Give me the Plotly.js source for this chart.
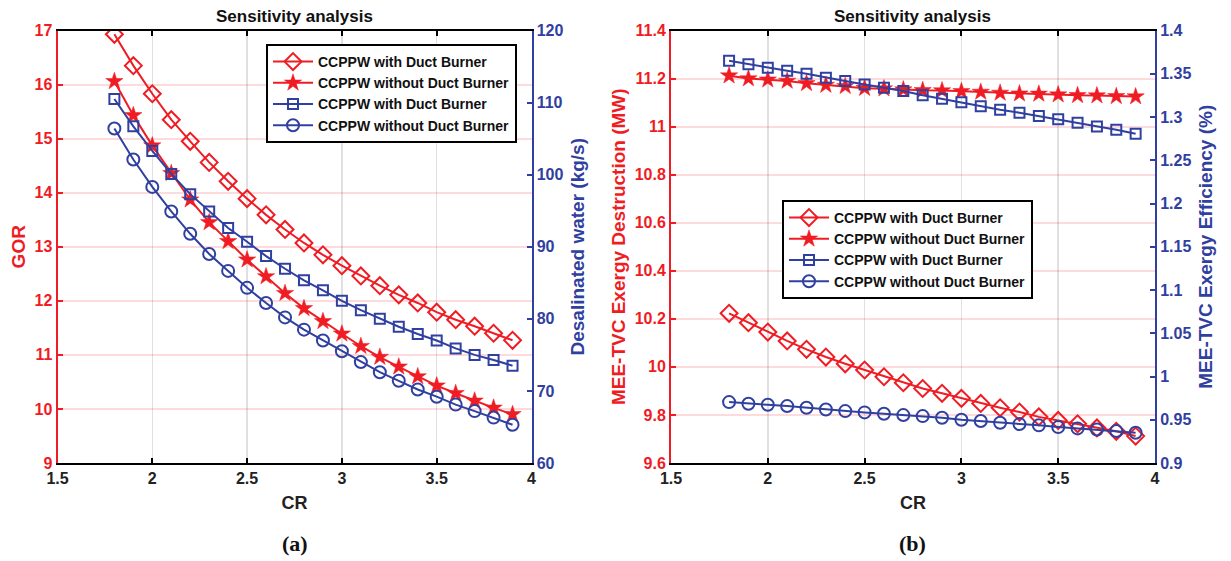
<!DOCTYPE html>
<html>
<head>
<meta charset="utf-8">
<script src="https://cdn.plot.ly/plotly-3.0.1.min.js"></script>
<style>html,body{margin:0;padding:0;background:#fff;}#chart{width:1231px;height:561px;}</style>
</head>
<body>
<div id="chart"></div>
<script>
// CR values
const CR = [1.8,1.9,2.0,2.1,2.2,2.3,2.4,2.5,2.6,2.7,2.8,2.9,3.0,3.1,3.2,3.3,3.4,3.5,3.6,3.7,3.8,3.9];

// (a) GOR (left axis)
const gorWithDB = [16.93,16.35,15.83,15.35,14.95,14.56,14.21,13.89,13.59,13.32,13.07,12.85,12.65,12.46,12.28,12.11,11.96,11.79,11.65,11.53,11.40,11.27];
const gorWithoutDB = [16.06,15.43,14.87,14.36,13.87,13.45,13.10,12.76,12.45,12.14,11.86,11.62,11.39,11.16,10.96,10.78,10.60,10.43,10.29,10.15,10.02,9.90];
// (a) Desalinated water (right axis)
const waterWithDB = [110.5,106.7,103.3,100.1,97.3,94.9,92.6,90.7,88.7,86.95,85.35,83.95,82.5,81.2,80.0,78.9,77.9,77.0,75.9,75.0,74.3,73.5];
const waterWithoutDB = [106.4,102.1,98.3,94.9,91.8,89.0,86.65,84.3,82.2,80.2,78.5,77.0,75.5,74.0,72.6,71.4,70.2,69.2,68.1,67.2,66.3,65.3];

// (b) MEE-TVC exergy destruction (left axis)
const exdWithDB = [10.223,10.184,10.145,10.108,10.073,10.041,10.013,9.987,9.959,9.934,9.910,9.890,9.869,9.848,9.830,9.812,9.792,9.777,9.763,9.746,9.732,9.712];
const exdWithoutDB = [11.212,11.200,11.195,11.190,11.180,11.173,11.168,11.160,11.158,11.154,11.151,11.150,11.147,11.144,11.140,11.137,11.136,11.133,11.130,11.129,11.126,11.125];
// (b) MEE-TVC exergy efficiency (right axis)
const effWithDB = [1.365,1.361,1.357,1.3535,1.350,1.3455,1.3415,1.3376,1.3337,1.330,1.3252,1.321,1.317,1.3124,1.3085,1.305,1.3012,1.2973,1.2934,1.2891,1.2853,1.2806];
const effWithoutDB = [0.9704,0.9685,0.9673,0.9658,0.9638,0.9619,0.960,0.9585,0.9569,0.9554,0.9542,0.9523,0.950,0.9485,0.9465,0.945,0.9435,0.9415,0.940,0.9388,0.9369,0.935];

const names = ['CCPPW with Duct Burner','CCPPW without Duct Burner','CCPPW with Duct Burner','CCPPW without Duct Burner'];

const RED = '#f01c24';
const BLUE = '#3040a0';
const FONT = 'Liberation Sans, Arial, sans-serif';

function tr(y, name, color, symbol, size, xa, ya, legend) {
  const filled = symbol === 'star';
  return {
    x: CR, y: y, name: name, type: 'scatter', mode: 'lines+markers',
    xaxis: xa, yaxis: ya, legend: legend,
    line: {color: color, width: 2},
    marker: {symbol: symbol, size: size, color: color,
             line: {color: color, width: filled ? 0.5 : 2}}
  };
}

const data = [
  tr(gorWithDB, names[0], RED, 'diamond-open', 13, 'x', 'y', 'legend'),
  tr(gorWithoutDB, names[1], RED, 'star', 13, 'x', 'y', 'legend'),
  tr(waterWithDB, names[2], BLUE, 'square-open', 10, 'x', 'y2', 'legend'),
  tr(waterWithoutDB, names[3], BLUE, 'circle-open', 12, 'x', 'y2', 'legend'),
  tr(exdWithDB, names[0], RED, 'diamond-open', 13, 'x2', 'y3', 'legend2'),
  tr(exdWithoutDB, names[1], RED, 'star', 13, 'x2', 'y3', 'legend2'),
  tr(effWithDB, names[2], BLUE, 'square-open', 10, 'x2', 'y4', 'legend2'),
  tr(effWithoutDB, names[3], BLUE, 'circle-open', 12, 'x2', 'y4', 'legend2')
];

const W = 1231, H = 561;
const yDom = [1 - 463/H, 1 - 30.5/H];
const x1Dom = [57.5/W, 531.5/W];
const x2Dom = [671/W, 1155/W];

function xAxis(dom, anchor) {
  return {
    domain: dom, anchor: anchor, range: [1.5, 4], dtick: 0.5, tick0: 1.5,
    showline: true, linecolor: '#000', linewidth: 2, mirror: 'ticks',
    ticks: 'inside', ticklen: 5, tickwidth: 2, tickcolor: '#000',
    showgrid: true, gridcolor: 'rgba(0,0,0,0.12)', gridwidth: 1.5,
    zeroline: false,
    tickfont: {family: FONT, size: 16, color: '#222', weight: 'bold'},
    title: {text: 'CR', font: {family: FONT, size: 18, color: '#222', weight: 'bold'}, standoff: 10}
  };
}
function yLeft(range, dtick, anchor, title) {
  return {
    domain: yDom, anchor: anchor, range: range, dtick: dtick, side: 'left',
    showline: true, linecolor: RED, linewidth: 2,
    ticks: 'inside', ticklen: 5, tickwidth: 2, tickcolor: RED,
    showgrid: true, gridcolor: 'rgba(240,28,36,0.16)', gridwidth: 2,
    zeroline: false,
    tickfont: {family: FONT, size: 16, color: RED, weight: 'bold'},
    title: {text: title, font: {family: FONT, size: 19, color: RED, weight: 'bold'}, standoff: 4}
  };
}
function yRight(range, dtick, anchor, overlay, title) {
  return {
    domain: yDom, anchor: anchor, overlaying: overlay, range: range, dtick: dtick, side: 'right',
    showline: true, linecolor: BLUE, linewidth: 2,
    ticks: 'inside', ticklen: 5, tickwidth: 2, tickcolor: BLUE,
    showgrid: false, zeroline: false,
    tickfont: {family: FONT, size: 16, color: BLUE, weight: 'bold'},
    title: {text: title, font: {family: FONT, size: 19, color: BLUE, weight: 'bold'}, standoff: 8}
  };
}

const legendStyle = {
  bgcolor: '#fff', bordercolor: '#000', borderwidth: 2,
  font: {family: FONT, size: 14, color: '#111', weight: 'bold'},
  xanchor: 'left', yanchor: 'top', tracegroupgap: 0, itemwidth: 40
};

const layout = {
  width: W, height: H,
  margin: {l: 0, r: 0, t: 0, b: 0},
  paper_bgcolor: '#fff', plot_bgcolor: '#fff',
  showlegend: true,
  xaxis: xAxis(x1Dom, 'y'),
  yaxis: yLeft([9, 17], 1, 'x', 'GOR'),
  yaxis2: yRight([60, 120], 10, 'x', 'y', 'Desalinated water (kg/s)'),
  xaxis2: xAxis(x2Dom, 'y3'),
  yaxis3: yLeft([9.6, 11.4], 0.2, 'x2', 'MEE-TVC Exergy Destruction (MW)'),
  yaxis4: yRight([0.9, 1.4], 0.05, 'x2', 'y3', 'MEE-TVC Exergy Efficiency (%)'),
  legend: Object.assign({}, legendStyle, {x: 266/W, y: 1 - 44/H}),
  legend2: Object.assign({}, legendStyle, {x: 782/W, y: 1 - 200/H}),
  annotations: [
    {text: 'Sensitivity analysis', xref: 'paper', yref: 'paper', x: (x1Dom[0]+x1Dom[1])/2, y: 1 - 16/H,
     xanchor: 'center', yanchor: 'middle',
     showarrow: false, font: {family: FONT, size: 17, color: '#111', weight: 'bold'}},
    {text: 'Sensitivity analysis', xref: 'paper', yref: 'paper', x: (x2Dom[0]+x2Dom[1])/2, y: 1 - 16/H,
     xanchor: 'center', yanchor: 'middle',
     showarrow: false, font: {family: FONT, size: 17, color: '#111', weight: 'bold'}},
    {text: '(a)', xref: 'paper', yref: 'paper', x: (x1Dom[0]+x1Dom[1])/2, y: 1 - 543/H,
     xanchor: 'center', yanchor: 'middle',
     showarrow: false, font: {family: 'Liberation Serif, Times New Roman, serif', size: 22, color: '#111', weight: 'bold'}},
    {text: '(b)', xref: 'paper', yref: 'paper', x: (x2Dom[0]+x2Dom[1])/2, y: 1 - 543/H,
     xanchor: 'center', yanchor: 'middle',
     showarrow: false, font: {family: 'Liberation Serif, Times New Roman, serif', size: 22, color: '#111', weight: 'bold'}}
  ]
};

Plotly.newPlot('chart', data, layout, {displayModeBar: false, staticPlot: true});
</script>
</body>
</html>
